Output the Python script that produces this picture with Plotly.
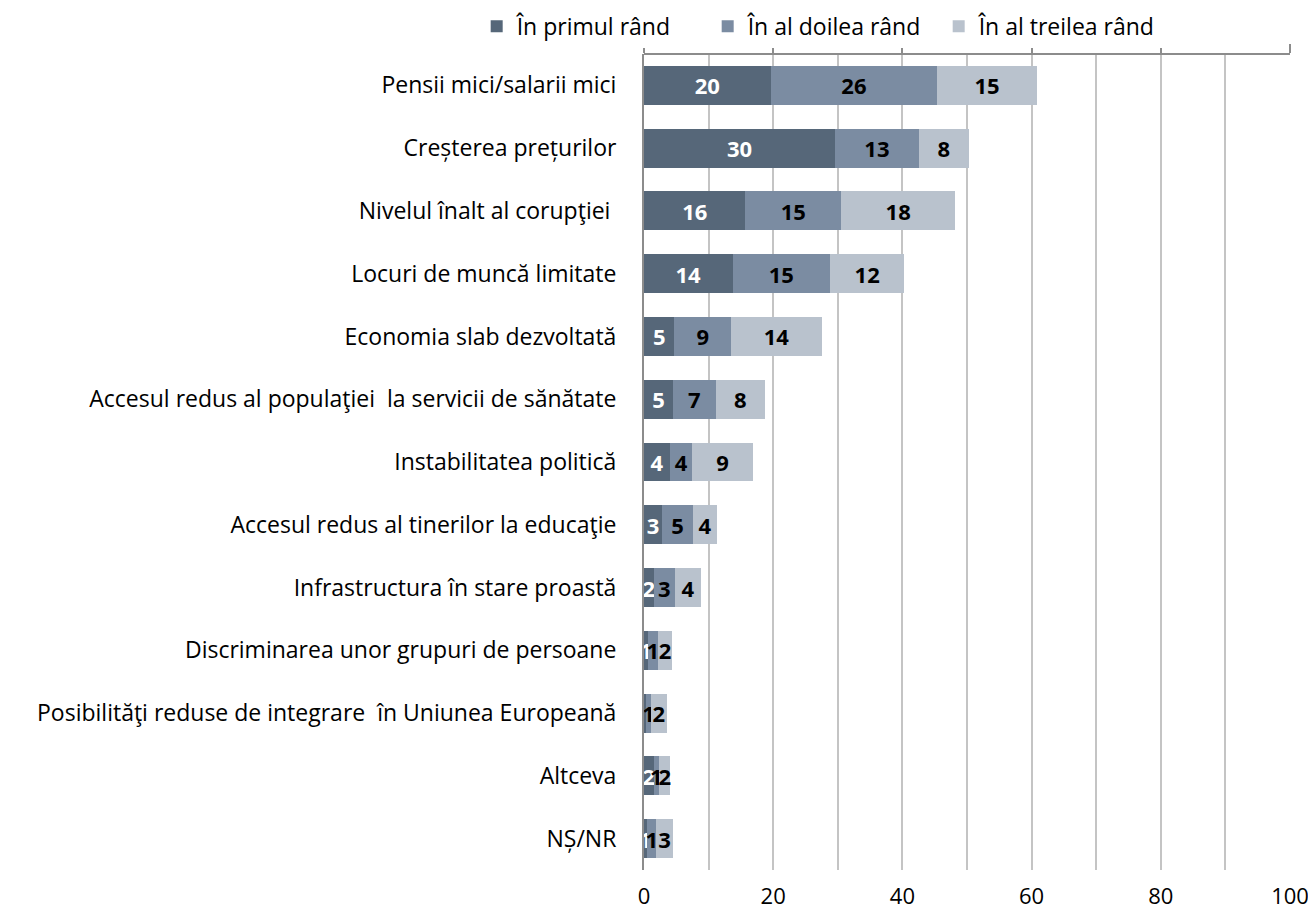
import plotly.graph_objects as go

categories = [
    "Pensii mici/salarii mici",
    "Creșterea prețurilor",
    "Nivelul înalt al corupţiei ",
    "Locuri de muncă limitate",
    "Economia slab dezvoltată",
    "Accesul redus al populaţiei \u2028la servicii de sănătate",
    "Instabilitatea politică",
    "Accesul redus al tinerilor la educaţie",
    "Infrastructura în stare proastă",
    "Discriminarea unor grupuri de persoane",
    "Posibilităţi reduse de integrare\u2028 în Uniunea Europeană",
    "Altceva",
    "NȘ/NR",
]

series_names = ["În primul rând", "În al doilea rând", "În al treilea rând"]

primul = [19.6, 29.6, 15.7, 13.7, 4.7, 4.5, 4.0, 2.8, 1.5, 0.6, 0.3, 1.5, 0.5]
doilea = [25.8, 12.9, 14.8, 15.1, 8.8, 6.6, 3.5, 4.8, 3.3, 1.5, 0.8, 0.8, 1.4]
treilea = [15.4, 7.8, 17.7, 11.5, 14.0, 7.6, 9.3, 3.7, 4.0, 2.3, 2.4, 1.8, 2.6]

primul_labels = ["20", "30", "16", "14", "5", "5", "4", "3", "2", "1", "", "2", "1"]
doilea_labels = ["26", "13", "15", "15", "9", "7", "4", "5", "3", "1", "1", "1", "1"]
treilea_labels = ["15", "8", "18", "12", "14", "8", "9", "4", "4", "2", "2", "2", "3"]

x_ticks = [0, 20, 40, 60, 80, 100]

colors = ["#566779", "#7b8ca2", "#b9c2cd"]
text_colors = ["#ffffff", "#000000", "#000000"]
FONT = "Open Sans"
FS = 22
FS_CAT = 23

fig = go.Figure()
for name, vals, labels, col, tcol in zip(
    series_names, [primul, doilea, treilea],
    [primul_labels, doilea_labels, treilea_labels], colors, text_colors):
    fig.add_trace(go.Bar(
        y=categories, x=vals, name=name, orientation="h",
        marker=dict(color=col, line=dict(width=0)),
        text=labels, textposition="inside", insidetextanchor="middle",
        textangle=0, constraintext="none",
        textfont=dict(family=FONT, size=FS, color=tcol, weight="bold"),
    ))

# dummy trace to carry the top axis line
fig.add_trace(go.Scatter(x=[None], y=[None], xaxis="x2", showlegend=False,
                         hoverinfo="skip", mode="markers"))

fig.update_layout(
    width=1308, height=907,
    margin=dict(l=636, r=26, t=46, b=45, autoexpand=False),
    barmode="stack", bargap=0.38,
    plot_bgcolor="white", paper_bgcolor="white",
    font=dict(family=FONT, size=FS, color="#000000"),
    legend=dict(orientation="h", x=-0.259, xanchor="left", y=1.034,
                yanchor="middle", font=dict(size=FS_CAT, family=FONT),
                traceorder="normal", entrywidth=186, itemwidth=30),
    xaxis=dict(range=[0, 100], tickvals=x_ticks, showgrid=True,
               gridcolor="#c4c4c4", gridwidth=2, zeroline=False,
               showline=False, ticks="", ticklabelstandoff=11,
               minor=dict(dtick=10, showgrid=True, gridcolor="#c4c4c4",
                          gridwidth=2, ticks=""),
               tickfont=dict(size=FS, family=FONT)),
    xaxis2=dict(range=[0, 100], overlaying="x", side="top", anchor="free",
                position=1,
                showline=True, linecolor="#8c8c8c", linewidth=2,
                ticks="outside", ticklen=9, tickwidth=2, tickcolor="#8c8c8c",
                dtick=20, tick0=0, showticklabels=False, showgrid=False,
                zeroline=False),
    yaxis=dict(categoryorder="array", categoryarray=categories,
               autorange="reversed", showline=True, linecolor="#8c8c8c",
               linewidth=2, ticks="outside", ticklen=21,
               tickcolor="rgba(0,0,0,0)", showgrid=False,
               tickfont=dict(size=FS_CAT, family=FONT)),
)

fig.write_html("out.html")
